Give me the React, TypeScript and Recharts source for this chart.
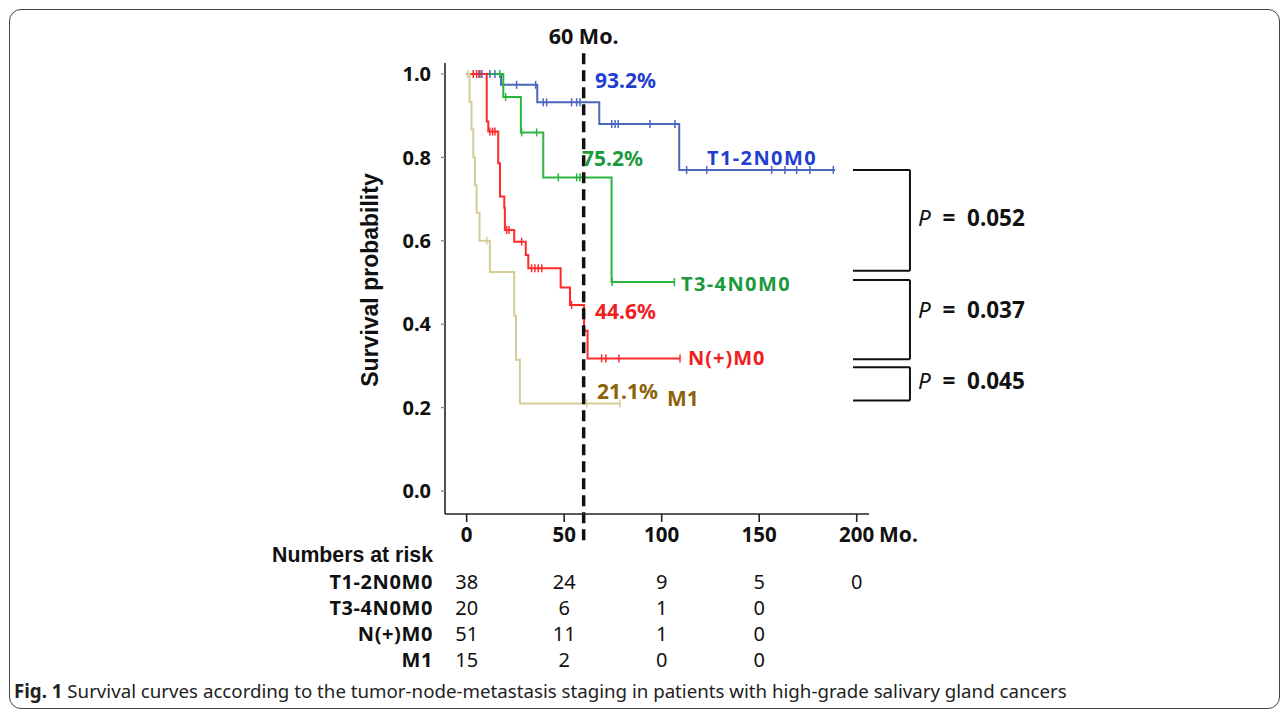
import React from 'react';
import { ComposedChart, Line, Scatter, XAxis, YAxis, ReferenceLine } from 'recharts';

// ---------- data ----------
const xTicks = [0, 50, 100, 150, 200];
const yTicks = [0, 0.2, 0.4, 0.6, 0.8, 1.0];

// T1-2N0M0
const t12Times = [0, 17.6, 36.2, 68, 109, 188.9];
const t12Surv = [1, 0.974, 0.932, 0.88, 0.77, 0.77];
const t12Censor = [6.3, 7.8, 11.9, 14.5, 25.6, 35.4, 39.3, 41, 53.8, 56.4, 58.1, 74.4, 76.1, 77.7, 94, 106.8, 112.8, 123.1, 156.4, 163.2, 169.2, 176, 188];

// T3-4N0M0
const t34Times = [0, 18.8, 27.8, 39.3, 74.3, 106.5];
const t34Surv = [1, 0.945, 0.86, 0.752, 0.501, 0.501];
const t34Censor = [17, 20, 28.2, 35.9, 47, 56.4, 58.1, 74.6, 106.5];

// N(+)M0
const nTimes = [0, 10.3, 11.1, 16.2, 17.1, 19.3, 19.6, 24.4, 30.3, 31.6, 48.2, 53, 60.2, 62, 109.4];
const nSurv = [1, 0.886, 0.862, 0.786, 0.706, 0.679, 0.626, 0.598, 0.566, 0.534, 0.488, 0.446, 0.384, 0.318, 0.318];
const nCensor = [3.4, 5.1, 6.8, 11.9, 13.3, 14.5, 20.5, 21.7, 28.2, 33.3, 35, 36.7, 38.5, 53.8, 69.2, 71.4, 78.1, 109.4];

// M1
const m1Times = [0, 1.5, 2.5, 3.4, 4.3, 5.1, 6.6, 11.9, 24.4, 25.3, 27.3, 78.6];
const m1Surv = [1, 0.933, 0.867, 0.8, 0.733, 0.667, 0.6, 0.525, 0.42, 0.315, 0.21, 0.21];
const m1Censor = [0.6, 10.3, 61.5, 78.6];

// numbers at risk
const riskLabels = ['T1-2N0M0', 'T3-4N0M0', 'N(+)M0', 'M1'];
const riskT12 = [38, 24, 9, 5, 0];
const riskT34 = [20, 6, 1, 0];
const riskN = [51, 11, 1, 0];
const riskM1 = [15, 2, 0, 0];

// annotations
const pctT12 = '93.2%';
const pctT34 = '75.2%';
const pctN = '44.6%';
const pctM1 = '21.1%';
const pValues = ['0.052', '0.037', '0.045'];
// bracket levels [top, bottom]
const brackets = [
  [0.77, 0.528],
  [0.506, 0.316],
  [0.297, 0.217],
];
const cutoffMonth = 60;

// ---------- geometry ----------
const W = 1287;
const H = 712;
const PLOT_L = 445;
const PLOT_R = 869;
const PLOT_T = 63;
const PLOT_B = 514;
const X_DOMAIN: [number, number] = [-11.1, 206.3];
const Y_DOMAIN: [number, number] = [-0.0552, 1.0264];
const px = (t: number) => PLOT_L + ((t - X_DOMAIN[0]) / (X_DOMAIN[1] - X_DOMAIN[0])) * (PLOT_R - PLOT_L);

const FONT = '"Noto Sans", "Open Sans", sans-serif';

const C_BLUE_LINE = '#4a66bd';
const C_BLUE_TXT = '#1f3fd0';
const C_GREEN_LINE = '#2cb53e';
const C_GREEN_TXT = '#1a9a3c';
const C_RED_LINE = '#ff2a2a';
const C_RED_TXT = '#f01e1e';
const C_TAN_LINE = '#d5cd98';
const C_TAN_TXT = '#8c6408';

const steps = (times: number[], surv: number[]) => times.map((t, i) => ({ t, s: surv[i] }));
const survAt = (times: number[], surv: number[], t: number) => {
  let s = surv[0];
  for (let i = 0; i < times.length; i++) if (times[i] <= t) s = surv[i];
  return s;
};
const censors = (times: number[], surv: number[], cs: number[]) => cs.map((t) => ({ t, s: survAt(times, surv, t) }));

const tickShape = (color: string) => (props: any) => {
  const { cx, cy } = props;
  if (cx == null || cy == null) return <g />;
  return <line x1={cx} x2={cx} y1={cy - 4} y2={cy + 4} stroke={color} strokeWidth={1.5} />;
};

const series = [
  { name: 'T1-2N0M0', times: t12Times, surv: t12Surv, cens: t12Censor, color: C_BLUE_LINE },
  { name: 'T3-4N0M0', times: t34Times, surv: t34Surv, cens: t34Censor, color: C_GREEN_LINE },
  { name: 'N(+)M0', times: nTimes, surv: nSurv, cens: nCensor, color: C_RED_LINE },
  { name: 'M1', times: m1Times, surv: m1Surv, cens: m1Censor, color: C_TAN_LINE },
];

const riskRows = [riskT12, riskT34, riskN, riskM1];
const pTextY = [217, 309, 380];

const BR_X0 = 198.1;
const BR_X1 = 227.3;

export default function App() {
  const yTickFmt = (v: number) => v.toFixed(1);
  return (
    <div style={{ position: 'absolute', left: 0, top: 0, width: W, height: H, background: '#fff', fontFamily: FONT }}>
      <div
        style={{
          position: 'absolute',
          left: 9,
          top: 9,
          width: 1271,
          height: 700,
          border: '1.6px solid #444',
          borderRadius: 12,
          boxSizing: 'border-box',
        }}
      />
      <div style={{ position: 'absolute', left: 0, top: 0 }}>
        <ComposedChart width={W} height={H} margin={{ top: PLOT_T, right: W - PLOT_R, bottom: H - PLOT_B - 40, left: PLOT_L - 60 }}>
          <XAxis
            type="number"
            dataKey="t"
            domain={X_DOMAIN}
            allowDataOverflow
            ticks={xTicks}
            height={40}
            tickSize={8}
            tickMargin={5}
            axisLine={{ stroke: '#222', strokeWidth: 1.6 }}
            tickLine={{ stroke: '#222', strokeWidth: 1.6 }}
            tick={{ fill: '#111', fontSize: 20.5, fontWeight: 700, fontFamily: FONT }}
          />
          <YAxis
            type="number"
            dataKey="s"
            domain={Y_DOMAIN}
            allowDataOverflow
            ticks={yTicks}
            width={60}
            tickSize={4}
            tickMargin={10}
            tickFormatter={yTickFmt}
            axisLine={{ stroke: '#222', strokeWidth: 1.6 }}
            tickLine={{ stroke: '#888', strokeWidth: 1.3 }}
            tick={{ fill: '#111', fontSize: 20, fontWeight: 700, fontFamily: FONT }}
          />
          {series.map((sr) => (
            <Line
              key={sr.name}
              data={steps(sr.times, sr.surv)}
              dataKey="s"
              type="stepAfter"
              stroke={sr.color}
              strokeWidth={2}
              dot={false}
              activeDot={false}
              isAnimationActive={false}
            />
          ))}
          {series.map((sr) => (
            <Scatter
              key={sr.name + '-c'}
              data={censors(sr.times, sr.surv, sr.cens)}
              dataKey="s"
              shape={tickShape(sr.color)}
              isAnimationActive={false}
            />
          ))}
          <ReferenceLine
            segment={[
              { x: cutoffMonth, y: 1.05 },
              { x: cutoffMonth, y: -0.12 },
            ]}
            stroke="#111"
            strokeWidth={3.5}
            strokeDasharray="11 6"
            ifOverflow="visible"
          />
          {brackets.map(([top], i) => (
            <ReferenceLine key={'bt' + i} segment={[{ x: BR_X0, y: top }, { x: BR_X1, y: top }]} stroke="#111" strokeWidth={2} ifOverflow="visible" />
          ))}
          {brackets.map(([, bot], i) => (
            <ReferenceLine key={'bb' + i} segment={[{ x: BR_X0, y: bot }, { x: BR_X1, y: bot }]} stroke="#111" strokeWidth={2} ifOverflow="visible" />
          ))}
          {brackets.map(([top, bot], i) => (
            <ReferenceLine key={'bv' + i} segment={[{ x: BR_X1, y: top }, { x: BR_X1, y: bot }]} stroke="#111" strokeWidth={2} ifOverflow="visible" />
          ))}
        </ComposedChart>
      </div>
      <svg width={W} height={H} style={{ position: 'absolute', left: 0, top: 0, pointerEvents: 'none' }}>
        <g fontFamily={FONT} fontWeight={700} fontSize={21} dominantBaseline="central">
          <text x={px(cutoffMonth)} y={35} textAnchor="middle" fill="#111" fontSize={21.5}>60 Mo.</text>
          <text x={595} y={80} fill={C_BLUE_TXT}>{pctT12}</text>
          <text x={582} y={158} fill={C_GREEN_TXT}>{pctT34}</text>
          <text x={707} y={157} fill={C_BLUE_TXT} fontSize={20} letterSpacing={1.4}>T1-2N0M0</text>
          <text x={681} y={283} fill={C_GREEN_TXT} fontSize={20} letterSpacing={1.4}>T3-4N0M0</text>
          <text x={595} y={311} fill={C_RED_TXT}>{pctN}</text>
          <text x={688} y={357} fill={C_RED_TXT} fontSize={20} letterSpacing={1}>N(+)M0</text>
          <text x={597} y={391} fill={C_TAN_TXT}>{pctM1}</text>
          <text x={667} y={398} fill={C_TAN_TXT}>M1</text>
          <text x={879} y={534} fill="#111">Mo.</text>
          {pValues.map((p, i) => (
            <text key={p} x={918} y={pTextY[i]} fill="#111" fontSize={22.5} xmlSpace="preserve">
              <tspan fontStyle="italic" fontWeight={400}>P</tspan>
              <tspan>{'  =  ' + p}</tspan>
            </text>
          ))}
        </g>
        <text
          x={370}
          y={280}
          transform="rotate(-90 370 280)"
          textAnchor="middle"
          dominantBaseline="central"
          fontFamily='"Liberation Sans", Arial, sans-serif'
          fontWeight={700}
          fontSize={23}
          fill="#111"
        >
          Survival probability
        </text>
        <text x={433} y={555} textAnchor="end" dominantBaseline="central" fontFamily='"Liberation Sans", Arial, sans-serif' fontWeight={700} fontSize={21.3} fill="#111">
          Numbers at risk
        </text>
        {riskLabels.map((lab, r) => (
          <g key={lab} fontFamily={FONT} fontSize={20} fill="#111" dominantBaseline="central">
            <text x={433} y={581 + r * 26} textAnchor="end" fontWeight={700} letterSpacing={0.6}>{lab}</text>
            {riskRows[r].map((v, c) => (
              <text key={c} x={px(xTicks[c])} y={581 + r * 26} textAnchor="middle" fontWeight={400}>{v}</text>
            ))}
          </g>
        ))}
        <text x={14} y={690} dominantBaseline="central" fontFamily={FONT} fontSize={18.7} fill="#222">
          <tspan fontWeight={700}>Fig. 1</tspan>
          <tspan> Survival curves according to the tumor-node-metastasis staging in patients with high-grade salivary gland cancers</tspan>
        </text>
      </svg>
    </div>
  );
}
